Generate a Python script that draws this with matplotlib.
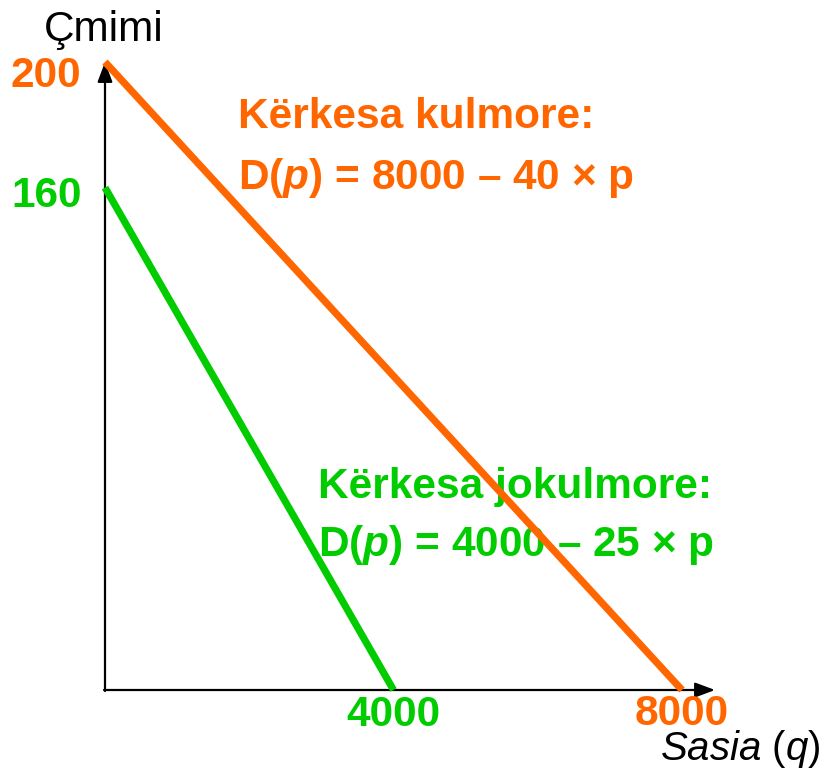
import matplotlib
matplotlib.use("Agg")
import matplotlib.pyplot as plt

plt.rcParams['font.family'] = ['Liberation Sans', 'DejaVu Sans']
plt.rcParams['mathtext.fontset'] = 'custom'
plt.rcParams['mathtext.rm'] = 'Liberation Sans'
plt.rcParams['mathtext.it'] = 'Liberation Sans:italic'
plt.rcParams['mathtext.bf'] = 'Liberation Sans:bold'
try:
    plt.rcParams['mathtext.bfit'] = 'Liberation Sans:bold:italic'
except KeyError:
    pass

# Data
orange_q = [0, 8000]
orange_p = [200, 0]
green_q = [0, 4000]
green_p = [160, 0]
price_ticks = [200, 160]
qty_ticks = [4000, 8000]

ORANGE = '#FF6600'
GREEN = '#00CC00'

W, H = 825, 770
fig = plt.figure(figsize=(W / 100, H / 100), dpi=100)
ax = fig.add_axes([0, 0, 1, 1])
ax.set_axis_off()

# pixel mapping: q=0 -> x=105, q=8000 -> x=682 ; p=0 -> y=690, p=200 -> y=62
x0, x1 = 105, 682
y0, y1 = 690, 62
qpp = 8000 / (x1 - x0)
ppp = 200 / (y0 - y1)
ax.set_xlim(-x0 * qpp, (W - x0) * qpp)
ax.set_ylim(-(H - y0) * ppp, y0 * ppp)

def fx(px):
    return px / W

def fy(py):
    return 1 - py / H

# axes arrows
ax.annotate('', xy=(fx(715), fy(690)), xytext=(fx(104), fy(690)),
            xycoords='axes fraction', textcoords='axes fraction',
            arrowprops=dict(arrowstyle='-|>,head_length=1.2,head_width=0.45',
                            color='black', lw=1.6, shrinkA=0, shrinkB=0))
ax.annotate('', xy=(fx(105), fy(62)), xytext=(fx(105), fy(691)),
            xycoords='axes fraction', textcoords='axes fraction',
            arrowprops=dict(arrowstyle='-|>,head_length=1.2,head_width=0.45',
                            color='black', lw=1.6, shrinkA=0, shrinkB=0))

# demand lines
ax.plot(orange_q, orange_p, color=ORANGE, lw=5.2, solid_capstyle='butt', zorder=4)
ax.plot(green_q, green_p, color=GREEN, lw=5.2, solid_capstyle='butt', zorder=4)

fs = 30.5
# tick labels
ax.annotate(str(price_ticks[0]), xy=(0, price_ticks[0]), xytext=(-17, -10),
            textcoords='offset points', color=ORANGE, fontsize=fs,
            fontweight='bold', ha='right', va='center')
ax.annotate(str(price_ticks[1]), xy=(0, price_ticks[1]), xytext=(-17, -6),
            textcoords='offset points', color=GREEN, fontsize=fs,
            fontweight='bold', ha='right', va='center')
ax.annotate(str(qty_ticks[0]), xy=(qty_ticks[0], 0), xytext=(0, -18),
            textcoords='offset points', color=GREEN, fontsize=fs,
            fontweight='bold', ha='center', va='center')
ax.annotate(str(qty_ticks[1]), xy=(qty_ticks[1], 0), xytext=(0, -17),
            textcoords='offset points', color=ORANGE, fontsize=fs,
            fontweight='bold', ha='center', va='center')

# axis titles
ax.text(fx(104), fy(30), 'Çmimi', transform=ax.transAxes, fontsize=30.5,
        ha='center', va='center', color='black')
ax.text(fx(821), fy(749), r'$\mathit{Sasia}$ ($\mathit{q}$)', transform=ax.transAxes,
        fontsize=29, ha='right', va='center', color='black')

# annotations
ax.text(fx(238), fy(117), 'Kërkesa kulmore:', transform=ax.transAxes, fontsize=fs,
        fontweight='bold', color=ORANGE, ha='left', va='center', zorder=2)
ax.text(fx(238), fy(178), r'D($\mathbfit{p}$) = 8000 – 40 × p', transform=ax.transAxes,
        fontsize=fs, fontweight='bold', color=ORANGE, ha='left', va='center', zorder=2)
ax.text(fx(318), fy(487), 'Kërkesa jokulmore:', transform=ax.transAxes, fontsize=fs,
        fontweight='bold', color=GREEN, ha='left', va='center', zorder=2)
ax.text(fx(318), fy(545), r'D($\mathbfit{p}$) = 4000 – 25 × p', transform=ax.transAxes,
        fontsize=fs, fontweight='bold', color=GREEN, ha='left', va='center', zorder=2)

fig.savefig('out.png', dpi=100)
